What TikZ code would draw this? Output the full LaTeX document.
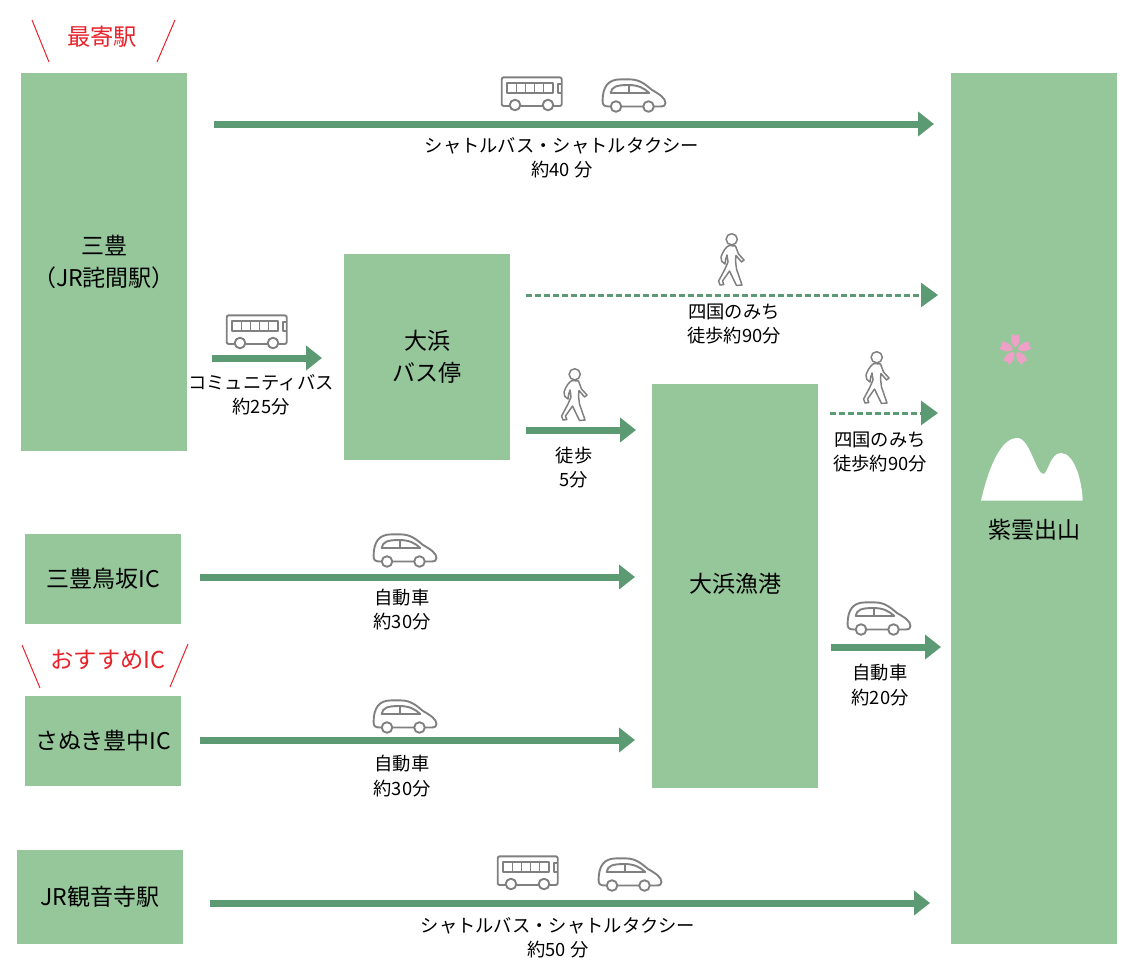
\documentclass[tikz,border=0pt]{standalone}
\usepackage{fontspec}
\usepackage{xcolor}
\setmainfont{Noto Sans CJK JP}
\usetikzlibrary{
    arrows.meta,
    calc
}
\definecolor{boxgreen}{HTML}{95C79B}
\definecolor{arrowgreen}{HTML}{5B9A72}
\definecolor{icongray}{HTML}{808080}
\definecolor{petalpink}{HTML}{EDA1C6}
\definecolor{markred}{HTML}{E8222A}
\tikzset{
    placebox/.style={fill=boxgreen, inner sep=0, outer sep=0, align=center, font=\fontsize{23}{32}\selectfont},
    caption/.style={inner sep=0, align=center, font=\fontsize{18.3}{24.5}\selectfont},
    redcaption/.style={inner sep=0, text=markred, font=\fontsize{23.3}{26}\selectfont},
    redtick/.style={draw=markred, line width=1pt},
    route/.style={draw=arrowgreen, line width=7pt, -{Triangle[length=16pt, width=24pt]}},
    walkroute/.style={draw=arrowgreen, line width=3pt, dash pattern=on 6pt off 3pt, -{Triangle[length=17pt, width=24pt]}},
    iconline/.style={draw=icongray, line width=1.9pt, line join=round},
    busicon/.pic={
        \draw[iconline, rounded corners=2pt] (0.7, 0.3) rectangle (60.7, 29);
        \draw[iconline] (6.3, 6.3) rectangle (51.7, 15.7);
        \foreach \i in {1, 2, 3, 4}
            \draw[icongray, line width=1.5pt] ({6.3 + 9.08*\i}, 6.3) -- ({6.3 + 9.08*\i}, 15.7);
        \draw[iconline] (60.7, 7) -- (57, 7) -- (57, 16) -- (60.7, 16);
        \draw[iconline, fill=white] (14, 28) circle (5.3);
        \draw[iconline, fill=white] (47, 28) circle (5.3);
    },
    caricon/.pic={
        \draw[iconline] (7, 27.5) .. controls (2, 27.5) and (0.6, 26) .. (0.6, 22)
            .. controls (0.6, 8) and (6, 0.4) .. (18, 0.4) -- (28, 0.4)
            .. controls (38, 0.4) and (44, 6) .. (50, 11)
            .. controls (57, 15) and (63.5, 19) .. (63.5, 24)
            .. controls (63.5, 26.5) and (62, 27.5) .. (58, 27.5) -- cycle;
        \draw[iconline] (8.7, 14) .. controls (9.5, 8) and (14, 6) .. (26.3, 6)
            .. controls (36, 6) and (42, 9) .. (47.3, 14) -- cycle;
        \draw[iconline] (27, 6) -- (27, 14);
        \draw[iconline, fill=white] (14, 27.5) circle (5.3);
        \draw[iconline, fill=white] (46.5, 27.5) circle (5.3);
    },
    walkicon/.pic={
        \draw[iconline, line width=1.5pt] (13.7, 6.3) circle (5.6);
        \draw[iconline, line width=1.5pt] (11, 12.5) .. controls (8, 14) and (5, 18) .. (3, 24)
            .. controls (2.5, 27) and (4, 30) .. (7, 31)
            .. controls (8, 28) and (7, 25) .. (9, 22)
            -- (10, 29) -- (7, 36) -- (0.6, 48) -- (2, 52) -- (5.8, 51.5)
            -- (4.5, 48) -- (11.5, 38) -- (18.5, 52.5) -- (24, 52)
            -- (18.5, 36) -- (17.5, 28) -- (18, 22.5)
            -- (23.5, 29) -- (26, 27) -- (20.5, 21) -- (17.5, 13) -- cycle;
    },
    flowerpetal/.pic={
        \fill[petalpink] (0, -2.5) .. controls (-3.5, -5) and (-5.5, -9) .. (-3.6, -15.8)
            -- (0, -14.2) -- (3.6, -15.8) .. controls (5.5, -9) and (3.5, -5) .. (0, -2.5) -- cycle;
    }
}
\begin{document}
\begin{tikzpicture}[x=1pt, y=-1pt]
    \useasboundingbox (0, 0) rectangle (1142, 975);

    % places
    \node[placebox, minimum width=166, minimum height=378] (mitoyo) at (104, 262) {三豊\\（JR詫間駅）};
    \node[placebox, minimum width=166, minimum height=206] (busstop) at (427, 357) {大浜\\バス停};
    \node[placebox, minimum width=166, minimum height=404] (port) at (735, 586) {};
    \node[placebox, minimum width=166, minimum height=871] (shiunde) at (1034, 508.5) {};
    \node[placebox, minimum width=156, minimum height=90] (toriba) at (103, 579) {三豊鳥坂IC};
    \node[placebox, minimum width=156, minimum height=90] (toyonaka) at (103, 741) {さぬき豊中IC};
    \node[placebox, minimum width=166, minimum height=94] (kanonji) at (100, 897) {JR観音寺駅};
    \node[inner sep=0, font=\fontsize{23}{32}\selectfont] (portname) at (735, 584) {大浜漁港};
    \node[inner sep=0, font=\fontsize{23}{32}\selectfont] (shiundename) at (1034, 530) {紫雲出山};

    % mountain and blossom
    \fill[white] (981, 500.7) .. controls (988, 470) and (1000, 438) .. (1017.3, 438)
        .. controls (1030, 438) and (1036, 474) .. (1043.3, 474)
        .. controls (1048, 474) and (1050, 453) .. (1061, 453)
        .. controls (1074, 453) and (1082, 480) .. (1082.7, 500.7) -- cycle;
    \foreach \i in {0, 1, 2, 3, 4}
        \pic[rotate=72*\i] at (1015.3, 350) {flowerpetal};

    % nearest station and recommended exit
    \node[redcaption] (nearest) at (102, 37) {最寄駅};
    \node[redcaption] (recommended) at (108, 660) {おすすめIC};
    \coordinate (tickaa) at (32, 20);
    \coordinate (tickab) at (49, 62);
    \coordinate (tickba) at (175, 20);
    \coordinate (tickbb) at (157, 62);
    \coordinate (tickca) at (22, 645);
    \coordinate (tickcb) at (40, 688);
    \coordinate (tickda) at (188, 644);
    \coordinate (tickdb) at (170, 687);
    \draw[redtick] (tickaa) -- (tickab);
    \draw[redtick] (tickba) -- (tickbb);
    \draw[redtick] (tickca) -- (tickcb);
    \draw[redtick] (tickda) -- (tickdb);

    % routes
    \draw[route] (mitoyo.east |- 0, 124) ++(27, 0) -- (934, 124);
    \draw[route] (mitoyo.east |- 0, 358) ++(25, 0) -- (322, 358);
    \draw[route] (busstop.east |- 0, 430) ++(16, 0) -- (636, 430);
    \draw[walkroute] (busstop.east |- 0, 295) ++(16, 0) -- (938, 295);
    \draw[walkroute] (port.east |- 0, 413) ++(12, 0) -- (938, 413);
    \draw[route] (toriba.east |- 0, 577) ++(19, 0) -- (635, 577);
    \draw[route] (toyonaka.east |- 0, 740) ++(19, 0) -- (635, 740);
    \draw[route] (port.east |- 0, 647) ++(13, 0) -- (941, 647);
    \draw[route] (kanonji.east |- 0, 903) ++(27, 0) -- (930, 903);

    % route captions
    \node[caption] (shuttlea) at (562, 158) {シャトルバス・シャトルタクシー\\約40 分};
    \node[caption] (community) at (261, 395) {コミュニティバス\\約25分};
    \node[caption] (walkbus) at (574, 467.5) {徒歩\\5分};
    \node[caption] (michia) at (734, 324) {四国のみち\\徒歩約90分};
    \node[caption] (michib) at (880, 452) {四国のみち\\徒歩約90分};
    \node[caption] (cara) at (402, 609.5) {自動車\\約30分};
    \node[caption] (carb) at (402, 776) {自動車\\約30分};
    \node[caption] (carc) at (880, 685) {自動車\\約20分};
    \node[caption] (shuttleb) at (558, 938) {シャトルバス・シャトルタクシー\\約50 分};

    % icons
    \pic at (501, 77) {busicon};
    \pic at (226, 315) {busicon};
    \pic at (497, 856) {busicon};
    \pic at (602, 79) {caricon};
    \pic at (373, 534) {caricon};
    \pic at (373, 700) {caricon};
    \pic at (598, 858) {caricon};
    \pic at (847, 602) {caricon};
    \pic at (718, 233) {walkicon};
    \pic at (561, 368) {walkicon};
    \pic at (863, 351) {walkicon};
\end{tikzpicture}
\end{document}
